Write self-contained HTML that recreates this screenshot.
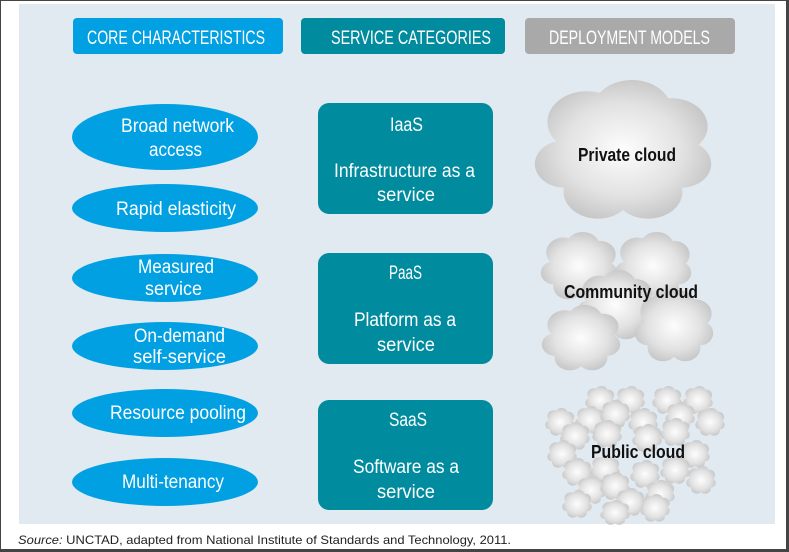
<!DOCTYPE html>
<html><head><meta charset="utf-8"><style>
body{margin:0;background:#fff}
svg{display:block}
text{font-family:"Liberation Sans",sans-serif}
</style></head><body>
<svg width="789" height="552" viewBox="0 0 789 552" xmlns="http://www.w3.org/2000/svg">
<defs>
<radialGradient id="rg" cx="0.5" cy="0.5" r="0.55"><stop offset="0" stop-color="#fdfdfd"/><stop offset="0.6" stop-color="#e2e2e2"/><stop offset="1" stop-color="#c2c2c2"/></radialGradient>
<clipPath id="cl" clipPathUnits="objectBoundingBox">
<circle cx="0.5" cy="0.52" r="0.33"/>
<circle cx="0.3" cy="0.3" r="0.22"/>
<circle cx="0.55" cy="0.22" r="0.22"/>
<circle cx="0.77" cy="0.33" r="0.2"/>
<circle cx="0.82" cy="0.6" r="0.17"/>
<circle cx="0.64" cy="0.8" r="0.19"/>
<circle cx="0.36" cy="0.8" r="0.19"/>
<circle cx="0.18" cy="0.6" r="0.17"/>
</clipPath>
</defs>
<rect x="0.5" y="0.5" width="787" height="550" fill="#fff" stroke="#444" stroke-width="1"/>
<rect x="786" y="0" width="3" height="552" fill="#444"/>
<rect x="0" y="549" width="789" height="3" fill="#444"/>
<rect x="19" y="4" width="756" height="520" fill="#e1e9f1"/>
<!-- headers -->
<rect x="73" y="18" width="210" height="36" rx="4" fill="#00a0e3"/>
<text x="87" y="44" font-size="19" fill="#fff" textLength="178" lengthAdjust="spacingAndGlyphs">CORE CHARACTERISTICS</text>
<rect x="301" y="18" width="204" height="36" rx="4" fill="#008c9e"/>
<text x="331" y="44" font-size="19" fill="#fff" textLength="160" lengthAdjust="spacingAndGlyphs">SERVICE  CATEGORIES</text>
<rect x="525" y="18" width="210" height="36" rx="4" fill="#a9a9a9"/>
<text x="549" y="44" font-size="19" fill="#fff" textLength="161" lengthAdjust="spacingAndGlyphs">DEPLOYMENT MODELS</text>
<!-- ellipses -->
<g fill="#00a0e3">
<ellipse cx="165" cy="137" rx="93" ry="33"/>
<ellipse cx="165" cy="208" rx="93" ry="24"/>
<ellipse cx="165" cy="278" rx="93" ry="24"/>
<ellipse cx="165" cy="346" rx="93" ry="24"/>
<ellipse cx="165" cy="413" rx="93" ry="24"/>
<ellipse cx="165" cy="482" rx="93" ry="24"/>
</g>
<g fill="#fff" font-size="19" lengthAdjust="spacingAndGlyphs">
<text x="121" y="132" textLength="113" lengthAdjust="spacingAndGlyphs">Broad network</text>
<text x="149" y="156" textLength="53" lengthAdjust="spacingAndGlyphs">access</text>
<text x="116" y="215" textLength="120" lengthAdjust="spacingAndGlyphs">Rapid elasticity</text>
<text x="138" y="273" textLength="76" lengthAdjust="spacingAndGlyphs">Measured</text>
<text x="145" y="295" textLength="57" lengthAdjust="spacingAndGlyphs">service</text>
<text x="134" y="342" textLength="91" lengthAdjust="spacingAndGlyphs">On-demand</text>
<text x="133" y="363" textLength="93" lengthAdjust="spacingAndGlyphs">self-service</text>
<text x="110" y="419" textLength="136" lengthAdjust="spacingAndGlyphs">Resource pooling</text>
<text x="122" y="488" textLength="102" lengthAdjust="spacingAndGlyphs">Multi-tenancy</text>
</g>
<!-- service boxes -->
<g fill="#008c9e">
<rect x="318" y="103" width="175" height="111" rx="11"/>
<rect x="318" y="253" width="175" height="111" rx="11"/>
<rect x="318" y="400" width="175" height="110" rx="11"/>
</g>
<g fill="#fff" font-size="19">
<text x="390" y="131" textLength="33" lengthAdjust="spacingAndGlyphs">IaaS</text>
<text x="334" y="177" textLength="141" lengthAdjust="spacingAndGlyphs">Infrastructure as a</text>
<text x="377" y="201" textLength="58" lengthAdjust="spacingAndGlyphs">service</text>
<text x="389" y="279" textLength="33" lengthAdjust="spacingAndGlyphs">PaaS</text>
<text x="354" y="326" textLength="102" lengthAdjust="spacingAndGlyphs">Platform as a</text>
<text x="377" y="351" textLength="58" lengthAdjust="spacingAndGlyphs">service</text>
<text x="389" y="426" textLength="38" lengthAdjust="spacingAndGlyphs">SaaS</text>
<text x="353" y="473" textLength="106" lengthAdjust="spacingAndGlyphs">Software as a</text>
<text x="377" y="498" textLength="58" lengthAdjust="spacingAndGlyphs">service</text>
</g>
<!-- clouds -->
<g fill="url(#rg)">
<rect x="533" y="80" width="180" height="140" clip-path="url(#cl)"/>
<rect x="540" y="232" width="78" height="68" clip-path="url(#cl)"/>
<rect x="614" y="232" width="78" height="68" clip-path="url(#cl)"/>
<rect x="576" y="270" width="78" height="70" clip-path="url(#cl)"/>
<rect x="634" y="290" width="80" height="72" clip-path="url(#cl)"/>
<rect x="541" y="305" width="80" height="66" clip-path="url(#cl)"/>
<rect x="585" y="386" width="30" height="28" clip-path="url(#cl)"/>
<rect x="615" y="386" width="30" height="28" clip-path="url(#cl)"/>
<rect x="652" y="386" width="30" height="28" clip-path="url(#cl)"/>
<rect x="683" y="386" width="30" height="28" clip-path="url(#cl)"/>
<rect x="545" y="408" width="30" height="28" clip-path="url(#cl)"/>
<rect x="575" y="406" width="30" height="28" clip-path="url(#cl)"/>
<rect x="600" y="400" width="30" height="28" clip-path="url(#cl)"/>
<rect x="628" y="408" width="30" height="28" clip-path="url(#cl)"/>
<rect x="665" y="402" width="30" height="28" clip-path="url(#cl)"/>
<rect x="695" y="408" width="30" height="28" clip-path="url(#cl)"/>
<rect x="560" y="422" width="30" height="28" clip-path="url(#cl)"/>
<rect x="592" y="420" width="30" height="28" clip-path="url(#cl)"/>
<rect x="632" y="424" width="30" height="28" clip-path="url(#cl)"/>
<rect x="660" y="418" width="30" height="28" clip-path="url(#cl)"/>
<rect x="547" y="440" width="30" height="28" clip-path="url(#cl)"/>
<rect x="680" y="440" width="30" height="28" clip-path="url(#cl)"/>
<rect x="562" y="458" width="30" height="28" clip-path="url(#cl)"/>
<rect x="590" y="455" width="30" height="28" clip-path="url(#cl)"/>
<rect x="630" y="460" width="30" height="28" clip-path="url(#cl)"/>
<rect x="660" y="456" width="30" height="28" clip-path="url(#cl)"/>
<rect x="686" y="466" width="30" height="28" clip-path="url(#cl)"/>
<rect x="576" y="476" width="30" height="28" clip-path="url(#cl)"/>
<rect x="600" y="472" width="30" height="28" clip-path="url(#cl)"/>
<rect x="615" y="488" width="30" height="28" clip-path="url(#cl)"/>
<rect x="645" y="480" width="30" height="28" clip-path="url(#cl)"/>
<rect x="562" y="490" width="30" height="28" clip-path="url(#cl)"/>
<rect x="600" y="500" width="30" height="25" clip-path="url(#cl)"/>
<rect x="640" y="494" width="30" height="28" clip-path="url(#cl)"/>
</g>
<g fill="#111" font-size="18" font-weight="bold">
<text x="578" y="161" textLength="98" lengthAdjust="spacingAndGlyphs">Private cloud</text>
<text x="564" y="298" textLength="134" lengthAdjust="spacingAndGlyphs">Community cloud</text>
<text x="591" y="458" textLength="94" lengthAdjust="spacingAndGlyphs">Public cloud</text>
</g>
<text x="18" y="544" font-size="12" fill="#222" textLength="493" lengthAdjust="spacingAndGlyphs"><tspan font-style="italic">Source:</tspan> UNCTAD, adapted from National Institute of Standards and Technology, 2011.</text>
</svg>
</body></html>
